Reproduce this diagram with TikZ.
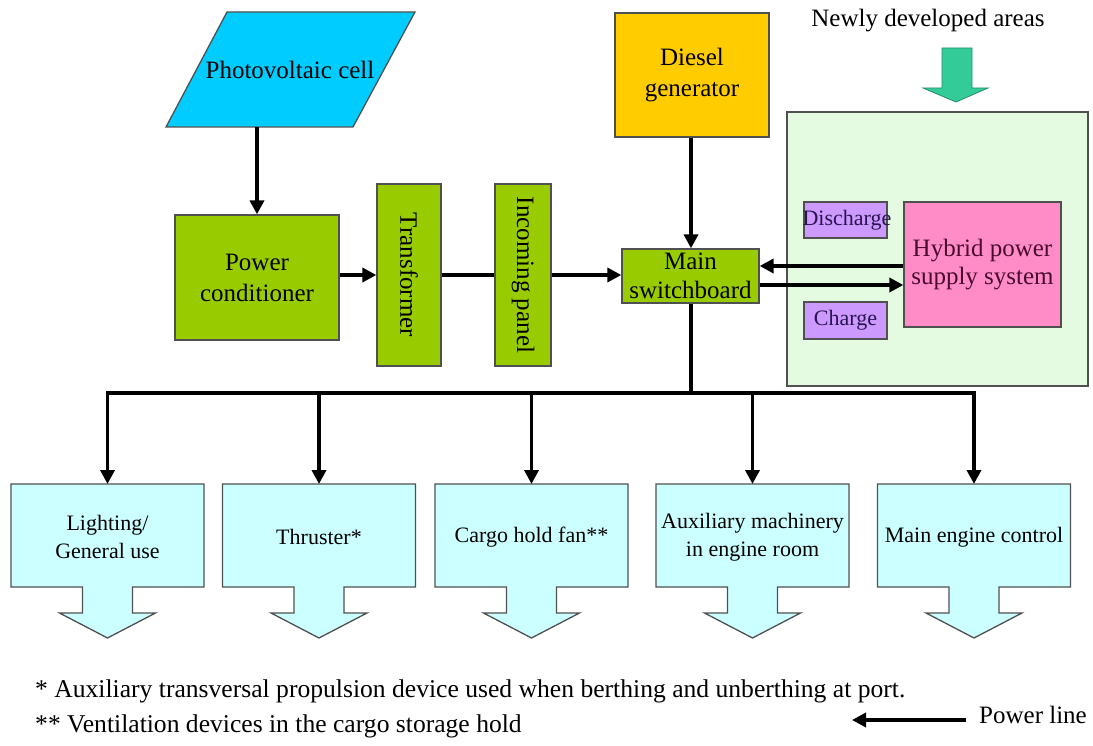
\documentclass[tikz,border=0pt]{standalone}
\usepackage{fontspec}
\setmainfont{Liberation Serif}
\usetikzlibrary{arrows.meta,calc}
\definecolor{pvc}{HTML}{00CCFF}
\definecolor{grn}{HTML}{99CC00}
\definecolor{dsl}{HTML}{FFCC00}
\definecolor{areac}{HTML}{E4FBE2}
\definecolor{hyb}{HTML}{FF8CC6}
\definecolor{purp}{HTML}{CC99FF}
\definecolor{load}{HTML}{CCFFFF}
\definecolor{blk}{HTML}{33CC99}
\definecolor{edge}{HTML}{505050}
\definecolor{hytext}{HTML}{4A0A30}
\definecolor{putext}{HTML}{2A1450}
\begin{document}
\begin{tikzpicture}[x=1pt,y=-1pt,
  big/.style={font=\fontsize{25}{31}\selectfont},
  small/.style={font=\fontsize{22}{28}\selectfont},
  note/.style={font=\fontsize{25.6}{31}\selectfont},
  box/.style={draw=edge, line width=1.3pt, inner sep=0pt, align=center, big},
  gbox/.style={box, fill=grn},
  pline/.style={line width=3.6pt, -{Triangle[length=14pt,width=14pt]}},
  bus/.style={line width=3.6pt},
  shapeline/.style={draw=edge, line width=1.3pt},
]
\useasboundingbox (0,0) rectangle (1093,746);

% photovoltaic cell
\filldraw[shapeline, fill=pvc] (227,12) -- (415,12) -- (353,127) -- (166,127) -- cycle;
\node[big, inner sep=0pt, minimum width=187pt, minimum height=115pt] (pv) at (290,69.5) {Photovoltaic cell};

% green chain
\node[gbox, minimum width=164pt, minimum height=125pt] (pc) at (257,277.5) {Power\\conditioner};
\node[gbox, minimum width=64pt, minimum height=182pt] (tr) at (409,275) {};
\node[big, rotate=-90, inner sep=0pt] (trt) at (tr.center) {Transformer};
\node[gbox, minimum width=56pt, minimum height=182pt] (ip) at (523,275) {};
\node[big, rotate=-90, inner sep=0pt] (ipt) at (ip.center) {Incoming panel};
\node[gbox, minimum width=137pt, minimum height=54pt, font=\fontsize{25}{29}\selectfont] (ms) at (690.5,276) {Main\\switchboard};

% diesel generator
\node[box, fill=dsl, minimum width=154pt, minimum height=124pt] (dg) at (692,75) {Diesel\\generator};

% newly developed area
\node[big, anchor=base] (nda) at (928,27) {Newly developed areas};
\filldraw[draw=blk!70!black, line width=0.8pt, fill=blk] (942,48) -- (972,48) -- (972,88) -- (988,88) -- (956,102) -- (923,88) -- (942,88) -- cycle;
\node[draw=edge, line width=1.3pt, fill=areac, minimum width=301pt, minimum height=274pt] (area) at (937.5,249) {};
\node[box, fill=hyb, text=hytext, minimum width=157pt, minimum height=125pt, font=\fontsize{25}{28}\selectfont] (hy) at (982.5,264.5) {Hybrid power\\supply system};
\node[draw=edge, line width=1.3pt, fill=purp, minimum width=83pt, minimum height=36pt] (dis) at (845.5,220) {};
\node[small, text=putext, inner sep=0pt] (dist) at (847,220) {Discharge};
\node[draw=edge, line width=1.3pt, fill=purp, minimum width=83pt, minimum height=37pt] (chg) at (845.5,320.5) {};
\node[small, text=putext, inner sep=0pt] (chgt) at (chg.center) {Charge};

% connectors top
\draw[pline] (pc.north |- pv.south) -- (pc.north);
\draw[pline] (pc.east |- 0,275) -- (tr.west |- 0,275);
\draw[bus] (tr.east |- 0,275) -- (ip.west |- 0,275);
\draw[pline] (ip.east |- 0,275) -- (ms.west |- 0,275);
\draw[pline] (dg.south -| 691,0) -- (ms.north -| 691,0);
\draw[pline] (hy.west |- 0,266) -- (ms.east |- 0,266);
\draw[pline] (ms.east |- 0,285) -- (hy.west |- 0,285);

% loads
\foreach \n/\cx/\txt in {b1/107.5/{Lighting/\\General use}, b2/319/{Thruster*}, b3/531.5/{Cargo hold fan**}, b4/752.5/{Auxiliary machinery\\in engine room}, b5/974/{Main engine control}}{
  \filldraw[shapeline, fill=load] (\cx-96.5,484) -- (\cx+96.5,484) -- (\cx+96.5,587) -- (\cx+25,587) -- (\cx+25,613) -- (\cx+48,613) -- (\cx,638) -- (\cx-48,613) -- (\cx-25,613) -- (\cx-25,587) -- (\cx-96.5,587) -- cycle;
  \node[small, align=center, inner sep=0pt, minimum width=193pt, minimum height=103pt] (\n) at (\cx,537) {\txt};
}

% bus
\coordinate (j) at (691,393);
\draw[bus] (ms.south -| 691,0) -- (j);
\draw[pline] (j) -| (b1.north |- 0,484);
\draw[pline] (j) -| (b5.north |- 0,484);
\draw[pline] (b2.north |- j) -- (b2.north |- 0,484);
\draw[pline] (b3.north |- j) -- (b3.north |- 0,484);
\draw[pline] (b4.north |- j) -- (b4.north |- 0,484);

% footnotes
\node[note, anchor=base west, inner sep=0pt] (fn1) at (35,697) {* Auxiliary transversal propulsion device used when berthing and unberthing at port.};
\node[note, anchor=base west, inner sep=0pt] (fn2) at (35,732) {** Ventilation devices in the cargo storage hold};
\node[big, anchor=base west, inner sep=0pt] (pl) at (979,723) {Power line};
\coordinate (ps) at (966,720);
\coordinate (pe) at (852,720);
\draw[pline] (ps) -- (pe);
\end{tikzpicture}
\end{document}
